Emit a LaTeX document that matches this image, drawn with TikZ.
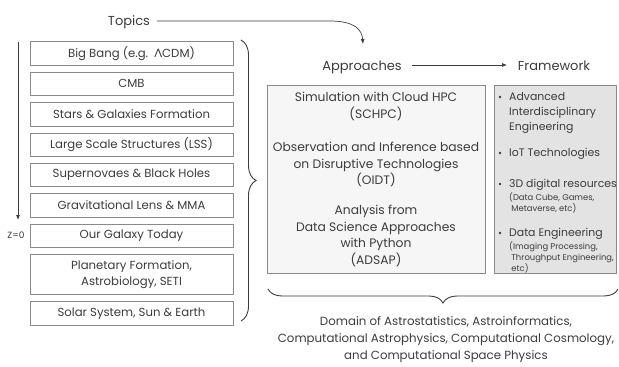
\documentclass[tikz,border=0pt]{standalone}
\usepackage{fontspec}
\setmainfont{Poppins}
\newfontfamily\greek{Lato}
\usetikzlibrary{positioning,decorations.pathreplacing,arrows.meta}
\definecolor{ink}{HTML}{3C3C3C}
\definecolor{edge}{HTML}{8A8A8A}
\definecolor{paleapp}{HTML}{F6F6F6}
\definecolor{paleframe}{HTML}{E3E3E3}

\begin{document}
\begin{tikzpicture}[x=1pt,y=1pt]
	\tikzstyle{topic}=[rectangle, draw=edge, line width=0.8pt, minimum width=203pt, minimum height=23.5pt, inner sep=1pt, text=ink, align=center, font=\fontsize{11.7}{15.5}\selectfont, node distance=6.1pt]
	\tikzstyle{head}=[text=ink, anchor=base, font=\fontsize{13}{15}\selectfont]
	\tikzstyle{connect}=[-{Latex[length=5pt,width=4pt]}, draw=ink, line width=0.7pt]
	\tikzstyle{brace}=[decorate, decoration={brace, amplitude=15pt}, draw=ink, line width=0.9pt]
	\tikzstyle{body}=[text=ink, align=center, font=\fontsize{12.3}{16.5}\selectfont]
	\tikzstyle{item}=[text=ink, align=left, anchor=north west, inner sep=0pt, font=\fontsize{10.9}{15}\selectfont]
	\tikzstyle{note}=[text=ink, align=left, anchor=north west, inner sep=0pt, font=\fontsize{8.4}{10.8}\selectfont]
	\tikzstyle{dot}=[circle, fill=ink, inner sep=0pt, minimum size=2.6pt]
	\useasboundingbox (0,0) rectangle (619,-367);
	% topics column
	\node[topic] (bigbang) at (131.5,-53.5) {Big Bang (e.g. \,{\greek Λ}CDM)};
	\node[topic] (cmb) [below=of bigbang] {CMB};
	\node[topic] (stars) [below=of cmb] {Stars \& Galaxies Formation};
	\node[topic] (lss) [below=of stars] {Large Scale Structures (LSS)};
	\node[topic] (sne) [below=of lss] {Supernovaes \& Black Holes};
	\node[topic] (lens) [below=of sne] {Gravitational Lens \& MMA};
	\node[topic] (galaxy) [below=of lens] {Our Galaxy Today};
	\node[topic, minimum height=40pt] (planet) [below=of galaxy] {Planetary Formation,\\Astrobiology, SETI};
	\node[topic] (solar) [below=of planet] {Solar System, Sun \& Earth};
	\coordinate (tstart) at (18,-42);
	\coordinate (tend) at (18,-220);
	\draw[connect] (tstart) -- (tend);
	\node[text=ink, font=\fontsize{9}{10}\selectfont] (zzero) at (16,-235) {Z=0};
	\draw[brace] (241,-40) -- (241,-321);
	% headings
	\node[head] (topics) at (129,-25) {Topics};
	\node[head] (approaches) at (362,-70) {Approaches};
	\node[head] (framework) at (554,-70) {Framework};
	\coordinate (topicsend) at (363,-44);
	\draw[connect] (157,-21) -- (330,-21) .. controls (355,-21) and (362,-30) .. (topicsend);
	\draw[connect] (412,-65) -- (507,-65);
	% approaches
	\node[rectangle, draw=edge, line width=0.8pt, fill=paleapp, minimum width=218pt, minimum height=188pt] (approachbox) at (376,-179) {};
	\node[body] (schpc) at (376,-106.5) {Simulation with Cloud HPC\\(SCHPC)};
	\node[body] (oidt) at (376,-164.5) {Observation and Inference based\\on Disruptive Technologies\\(OIDT)};
	\node[body] (adsap) at (376,-236) {Analysis from\\Data Science Approaches\\with Python\\(ADSAP)};
	% framework
	\node[rectangle, draw=edge, line width=0.8pt, fill=paleframe, minimum width=122pt, minimum height=188pt] (frameworkbox) at (555,-179) {};
	\node[item] (advanced) at (509,-92) {Advanced\\Interdisciplinary\\Engineering};
	\node[item] (iot) at (509,-148) {IoT Technologies};
	\node[item] (resources) at (509,-179) {3D digital resources};
	\node[note] (resnote) at ([yshift=-2pt]resources.south west) {(Data Cube, Games,\\\ Metaverse, etc)};
	\node[item] (dataeng) at (509,-228) {Data Engineering};
	\node[note] (datanote) at ([yshift=-2pt]dataeng.south west) {(Imaging Processing,\\\ Throughput Engineering,\\\ etc)};
	\foreach \n in {advanced, iot, resources, dataeng}
		\node[dot] at ([xshift=-9pt,yshift=-5pt]\n.north west) {};
	% domain
	\draw[brace, decoration={amplitude=14pt}] (618,-289) -- (268,-289);
	\node[body, font=\fontsize{11.8}{17}\selectfont] (domain) at (446,-340) {Domain of Astrostatistics, Astroinformatics,\\Computational Astrophysics, Computational Cosmology,\\and Computational Space Physics};
\end{tikzpicture}
\end{document}
